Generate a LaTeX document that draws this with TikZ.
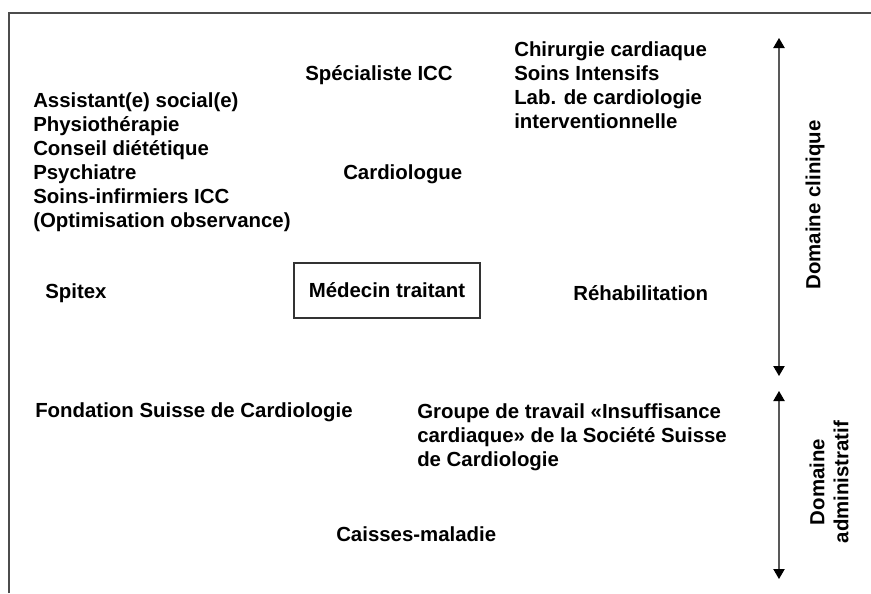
\documentclass[tikz,border=0pt]{standalone}
\usepackage{fontspec}
\setmainfont{Liberation Sans}
\usetikzlibrary{arrows.meta}

\begin{document}
\begin{tikzpicture}[x=0.75pt,y=-0.75pt,
    lbl/.style={anchor=base west,inner sep=0pt,align=left,
    font=\fontsize{15.3}{18}\selectfont\bfseries},
    domlbl/.style={inner sep=0pt,align=center,rotate=90,
    font=\fontsize{15.3}{18}\selectfont\bfseries},
    domarrow/.style={black!65,thick,
    {Triangle[width=8.5pt,length=7.5pt,color=black]}-{Triangle[width=8.5pt,length=7.5pt,color=black]}}]
    \useasboundingbox (0,0) rectangle (871,593);

    \draw[black!70,thick] (9,593) -- (9,13) -- (871,13);

    % multi-line labels sit on the baseline of their last line
    \node[lbl] (spec) at (305,80.5) {Spécialiste ICC};
    \node[lbl] (chir) at (514,128.5) {Chirurgie cardiaque\\Soins Intensifs\\Lab. de cardiologie\\interventionnelle};
    \node[lbl] (assist) at (33,227.5) {Assistant(e) social(e)\\Physiothérapie\\Conseil diététique\\Psychiatre\\Soins-infirmiers ICC\\(Optimisation observance)};
    \node[lbl] (cardio) at (343,179) {Cardiologue};
    \node[lbl] (spitex) at (45,298.5) {Spitex};
    \node[draw=black!80,thick,minimum width=139.5pt,minimum height=41.25pt,
    font=\fontsize{15.3}{18}\selectfont\bfseries] (medecin) at (387,290.5) {Médecin traitant};
    \node[lbl] (rehab) at (573,300.5) {Réhabilitation};

    \node[lbl] (fondation) at (35,417) {Fondation Suisse de Cardiologie};
    \node[lbl] (groupe) at (417,466) {Groupe de travail «Insuffisance\\cardiaque» de la Société Suisse\\de Cardiologie};
    \node[lbl] (caisses) at (336,541.5) {Caisses-maladie};

    \node[domlbl] (clinique) at (815,205) {Domaine clinique};
    \node[domlbl] (admin) at (829,482) {Domaine\\administratif};

    \coordinate (clinTop) at (779,38);
    \coordinate (clinBot) at (779,376);
    \coordinate (admTop) at (779,391);
    \coordinate (admBot) at (779,579);
    \draw[domarrow] (clinTop) -- (clinBot);
    \draw[domarrow] (admTop) -- (admBot);
\end{tikzpicture}
\end{document}
